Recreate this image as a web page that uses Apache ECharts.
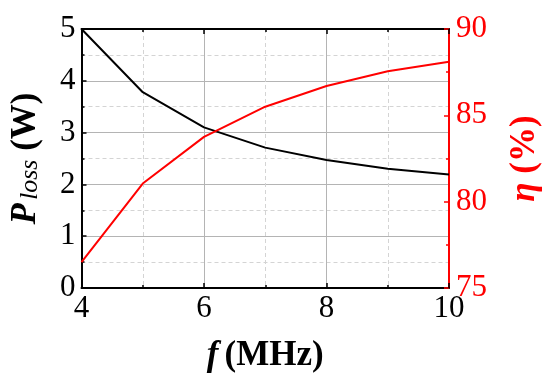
<!DOCTYPE html>
<html>
<head>
<meta charset="utf-8">
<script src="https://cdn.jsdelivr.net/npm/echarts@6/dist/echarts.min.js"></script>
<style>html,body{margin:0;padding:0;background:#fff}#c{width:550px;height:380px}</style>
</head>
<body>
<div id="c"></div>
<script>
const freq = [4, 5, 6, 7, 8, 9, 10];
const ploss = [5.0, 3.78, 3.1, 2.71, 2.47, 2.3, 2.19];
const eta = [76.5, 81.05, 83.75, 85.5, 86.7, 87.55, 88.1];

const FONT = 'Liberation Serif';
const chart = echarts.init(document.getElementById('c'), null, {renderer: 'canvas'});
const tickFont = {fontFamily: FONT, fontSize: 31, color: '#000'};

chart.setOption({
  animation: false,
  backgroundColor: '#fff',
  grid: {left: 80, right: 100, top: 29, bottom: 92, containLabel: false},
  xAxis: [{
    type: 'value', min: 4, max: 10, interval: 2, position: 'bottom',
    axisLine: {show: true, onZero: false, lineStyle: {color: '#000', width: 2}},
    axisTick: {show: true, inside: true, length: 5, lineStyle: {color: '#000', width: 1.5}},
    minorTick: {show: true, splitNumber: 2, length: 3, lineStyle: {color: '#000', width: 1.5}},
    splitLine: {show: true, lineStyle: {color: '#b4b4b4', width: 1}},
    minorSplitLine: {show: true, lineStyle: {color: '#d4d4d4', width: 1, type: [4, 3]}},
    axisLabel: Object.assign({margin: 5}, tickFont),
    name: '{i|f}{n|(MHz)}', nameLocation: 'middle', nameGap: 50,
    nameTextStyle: {rich: {
      i: {fontFamily: FONT, fontSize: 35, fontWeight: 'bold', fontStyle: 'italic', color: '#000', padding: [0, 6, 0, 0]},
      n: {fontFamily: FONT, fontSize: 35, fontWeight: 'bold', color: '#000'}
    }}
  }, {
    type: 'value', min: 4, max: 10, interval: 2, position: 'top',
    axisLine: {show: true, onZero: false, lineStyle: {color: '#000', width: 2}},
    axisTick: {show: true, inside: true, length: 5, lineStyle: {color: '#000', width: 1.5}},
    minorTick: {show: true, splitNumber: 2, length: 3, lineStyle: {color: '#000', width: 1.5}},
    splitLine: {show: false}, axisLabel: {show: false}
  }],
  yAxis: [{
    type: 'value', min: 0, max: 5, interval: 1, position: 'left',
    axisLine: {show: true, onZero: false, lineStyle: {color: '#000', width: 2}},
    axisTick: {show: true, inside: true, length: 5, lineStyle: {color: '#000', width: 1.5}},
    minorTick: {show: true, splitNumber: 2, length: 3, lineStyle: {color: '#000', width: 1.5}},
    splitLine: {show: true, lineStyle: {color: '#b4b4b4', width: 1}},
    minorSplitLine: {show: true, lineStyle: {color: '#d4d4d4', width: 1, type: [4, 3]}},
    axisLabel: Object.assign({margin: 6}, tickFont),
    name: '{i|P}{s|loss}{n| (W)}', nameLocation: 'middle', nameGap: 38, nameRotate: 90,
    nameTextStyle: {rich: {
      i: {fontFamily: FONT, fontSize: 35, fontWeight: 'bold', fontStyle: 'italic', color: '#000', lineHeight: 36},
      s: {fontFamily: FONT, fontSize: 26, fontStyle: 'italic', color: '#000', verticalAlign: 'bottom', lineHeight: 36, padding: [0, 0, 0, 3]},
      n: {fontFamily: FONT, fontSize: 35, fontWeight: 'bold', color: '#000', lineHeight: 36}
    }}
  }, {
    type: 'value', min: 75, max: 90, interval: 5, position: 'right',
    axisLine: {show: true, onZero: false, lineStyle: {color: '#ff0000', width: 2}},
    axisTick: {show: true, inside: true, length: 5, lineStyle: {color: '#ff0000', width: 1.5}},
    minorTick: {show: true, splitNumber: 2, length: 3, lineStyle: {color: '#ff0000', width: 1.5}},
    splitLine: {show: false},
    axisLabel: {margin: 7, fontFamily: FONT, fontSize: 31, color: '#ff0000'},
    name: '{i|η}{n| (%)}', nameLocation: 'middle', nameGap: 58, nameRotate: 90,
    nameTextStyle: {rich: {
      i: {fontFamily: FONT, fontSize: 35, fontWeight: 'bold', fontStyle: 'italic', color: '#ff0000'},
      n: {fontFamily: FONT, fontSize: 35, fontWeight: 'bold', color: '#ff0000'}
    }}
  }],
  series: [{
    type: 'line', xAxisIndex: 0, yAxisIndex: 0,
    data: freq.map((f, i) => [f, ploss[i]]),
    showSymbol: false, symbol: 'none',
    lineStyle: {color: '#000', width: 2}
  }, {
    type: 'line', xAxisIndex: 0, yAxisIndex: 1,
    data: freq.map((f, i) => [f, eta[i]]),
    showSymbol: false, symbol: 'none',
    lineStyle: {color: '#ff0000', width: 2}
  }]
});
</script>
</body>
</html>
